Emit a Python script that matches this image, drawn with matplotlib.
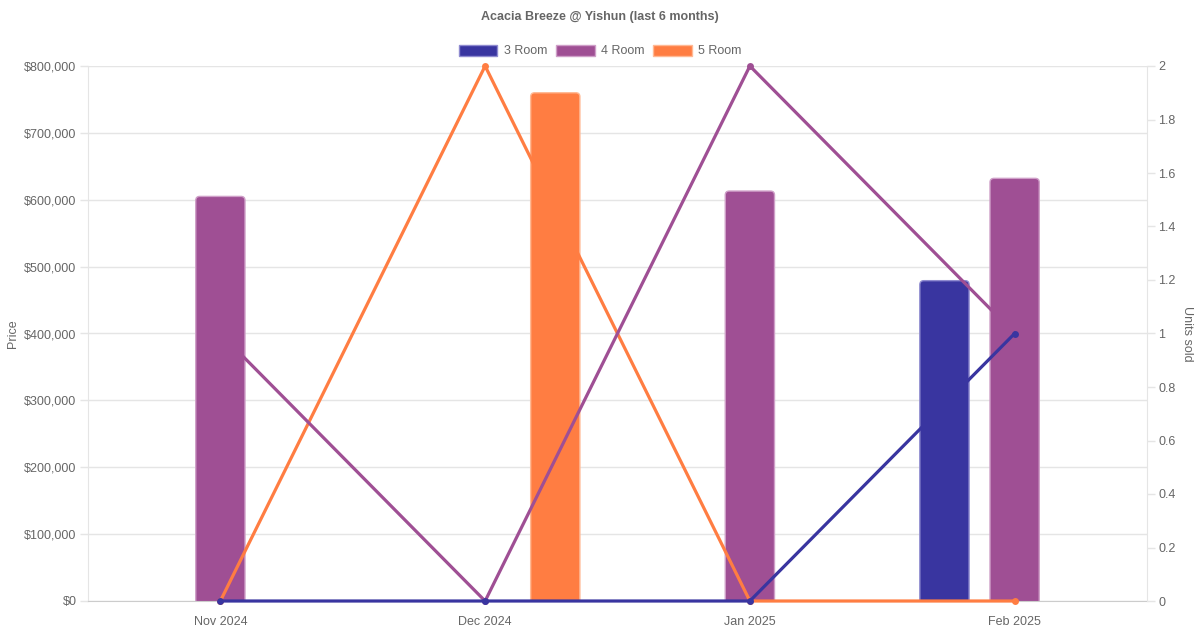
import matplotlib
matplotlib.use("Agg")
import matplotlib.pyplot as plt
import numpy as np
from matplotlib.ticker import FuncFormatter, MultipleLocator
from matplotlib.patches import Patch, FancyBboxPatch

plt.rcParams['font.family'] = ['Liberation Sans', 'DejaVu Sans']

months = ['Nov 2024', 'Dec 2024', 'Jan 2025', 'Feb 2025']
room_types = ['3 Room', '4 Room', '5 Room']
colors = ['#3935a0', '#9f4f94', '#ff7d42']
edge_colors = ['#8f8bd0', '#cf9fc8', '#ffb994']

# average price per month (None = no sale)
price_3room = [None, None, None, 479000]
price_4room = [605000, None, 613000, 632000]
price_5room = [None, 760000, None, None]

# units sold per month
units_3room = [0, 0, 0, 1]
units_4room = [1, 0, 2, 1]
units_5room = [0, 2, 0, 0]

prices = [price_3room, price_4room, price_5room]
units = [units_3room, units_4room, units_5room]

grey = '#666666'
grid = '#e5e5e5'

fig = plt.figure(figsize=(12, 6.3), dpi=100)
ax = fig.add_axes([88 / 1200, 1 - 601 / 630, (1147 - 88) / 1200, (601 - 66) / 630])
ax2 = ax.twinx()

ax.set_xlim(-0.5, 3.5)
ax.set_ylim(0, 800000)
ax2.set_ylim(0, 2)

x = np.arange(len(months))
offsets = [-0.265, 0, 0.265]
bar_w = 0.186

# rounded top corners, ~4 px radius
bb = ax.get_window_extent()
rx = 4 * (3.5 - -0.5) / bb.width
ry = 4 * 800000 / bb.height

for i, name in enumerate(room_types):
    for j in range(len(months)):
        v = prices[i][j]
        if v is None:
            continue
        left = x[j] + offsets[i] - bar_w / 2
        box = FancyBboxPatch((left, -2 * ry), bar_w, v + 2 * ry,
                             boxstyle=f"round,pad=0,rounding_size={rx}",
                             mutation_aspect=ry / rx,
                             facecolor=colors[i], edgecolor=edge_colors[i],
                             linewidth=1, zorder=2)
        ax.add_patch(box)

# 3 Room line drawn last so it sits on top
for i in reversed(range(len(room_types))):
    ax2.plot(x, units[i], color=colors[i], linewidth=2.3, marker='o',
             markersize=5, markeredgewidth=0, zorder=3, clip_on=False)

ax.yaxis.set_major_locator(MultipleLocator(100000))
ax.yaxis.set_major_formatter(FuncFormatter(lambda v, p: '${:,.0f}'.format(v)))
ax2.yaxis.set_major_locator(MultipleLocator(0.2))
ax2.yaxis.set_major_formatter(FuncFormatter(lambda v, p: '{:g}'.format(round(v, 1))))

ax.set_xticks(x)
ax.set_xticklabels(months)

ax.grid(axis='y', color=grid, linewidth=1, zorder=0)
ax.set_axisbelow(True)

for a in (ax, ax2):
    for s in a.spines.values():
        s.set_visible(False)
ax.spines['left'].set_visible(True)
ax.spines['left'].set_color(grid)
ax.spines['bottom'].set_visible(True)
ax.spines['bottom'].set_color('#cccccc')
ax2.spines['right'].set_visible(True)
ax2.spines['right'].set_color(grid)

ax.tick_params(axis='y', labelcolor=grey, labelsize=9, length=5.8,
               width=1, color=grid, pad=2.5)
ax.tick_params(axis='x', labelcolor=grey, labelsize=9, length=0, pad=10.5)
ax2.tick_params(axis='y', labelcolor=grey, labelsize=9, length=5.8, width=1,
                color=grid, pad=2.5)

ax.set_ylabel('Price', color=grey, fontsize=9, labelpad=3.7)
ax2.set_ylabel('Units sold', color=grey, fontsize=9, rotation=270, labelpad=12)

fig.text(0.5, 1 - 17 / 630, 'Acacia Breeze @ Yishun (last 6 months)', ha='center',
         va='center', fontsize=9, fontweight='bold', color=grey)

handles = [Patch(facecolor=colors[i], edgecolor=edge_colors[i], linewidth=1)
           for i in range(3)]
fig.legend(handles, room_types, loc='center', bbox_to_anchor=(0.5, 1 - 51 / 630),
           ncol=3, frameon=False, fontsize=9, labelcolor=grey,
           handlelength=3.1, handleheight=1.0, handletextpad=0.5,
           columnspacing=0.7, borderpad=0)

fig.savefig('out.png', dpi=100)
